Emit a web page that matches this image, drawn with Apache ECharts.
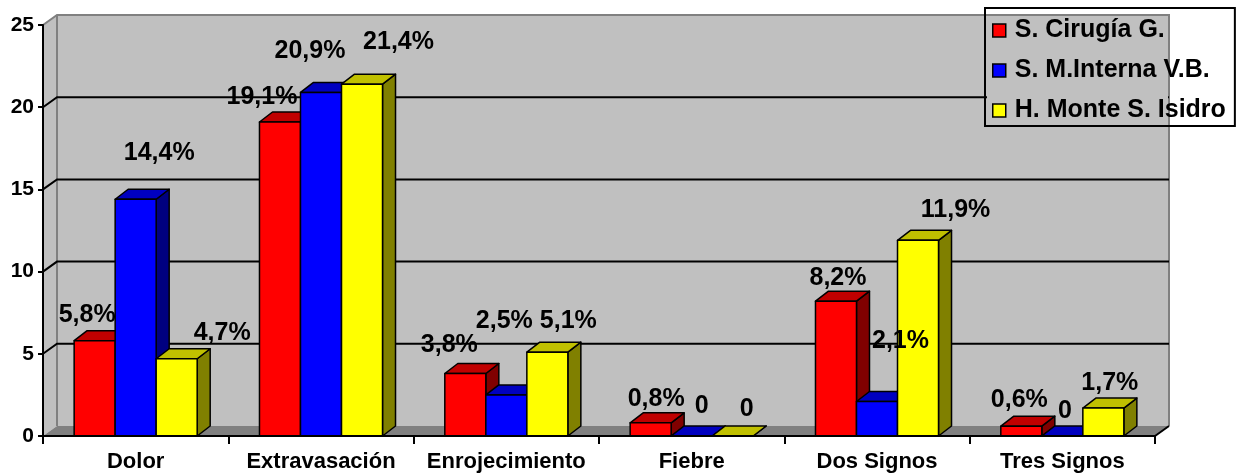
<!DOCTYPE html>
<html>
<head>
<meta charset="utf-8">
<script src="https://cdn.jsdelivr.net/npm/echarts@6/dist/echarts.min.js"></script>
<style>
  html, body { margin: 0; padding: 0; background: #ffffff; }
  #chart { width: 1242px; height: 475px; }
</style>
</head>
<body>
<div id="chart"></div>
<script>
// Categories and values (percent of patients per sign)
const categories = ['Dolor', 'Extravasación', 'Enrojecimiento', 'Fiebre', 'Dos Signos', 'Tres Signos'];
const seriesNames = ['S. Cirugía G.', 'S. M.Interna V.B.', 'H. Monte S. Isidro'];
const cirugiaValues = [5.8, 19.1, 3.8, 0.8, 8.2, 0.6];
const internaValues = [14.4, 20.9, 2.5, 0, 2.1, 0];
const isidroValues = [4.7, 21.4, 5.1, 0, 11.9, 1.7];
const yTicks = [0, 5, 10, 15, 20, 25];

// Label placement relative to the top-front centre of each column [dx, dy] in px
const cirugiaLabelNudge = [[-7.5, -26], [-18, -25], [-16, -28], [5.5, -24], [2, -23], [-2, -26]];
const internaLabelNudge = [[23.5, -46], [-11, -41], [-2, -74], [10, -30], [23.5, -60], [2.5, -25]];
const isidroLabelNudge = [[45.5, -26], [36.5, -42], [21, -31], [14, -27], [37.5, -30], [6.5, -25]];

const FONT = '"Liberation Sans", Arial, sans-serif';

// Face colours: front, top, side
const palette = [
  { front: '#FF0000', top: '#C00000', side: '#800000' },
  { front: '#0000FF', top: '#0000C0', side: '#000080' },
  { front: '#FFFF00', top: '#C0C000', side: '#808000' }
];

// Depth of the walls and of the columns (projected offsets)
const WALL_DX = 14, WALL_DY = -10;
const BAR_DX = 13, BAR_DY = -10;
const BAR_FRACTION = 0.2213;

function fmt(v) {
  return v === 0 ? '0' : v.toFixed(1).replace('.', ',') + '%';
}

function wallsRender(params, api) {
  const cs = params.coordSys;
  const x0 = cs.x, x1 = cs.x + cs.width;
  const yTop = cs.y, yBot = cs.y + cs.height;
  const children = [];
  // left side wall
  children.push({ type: 'polygon', shape: { points: [[x0, yTop], [x0 + WALL_DX, yTop + WALL_DY], [x0 + WALL_DX, yBot + WALL_DY], [x0, yBot]] },
    style: { fill: '#C0C0C0', stroke: null } });
  // back wall
  children.push({ type: 'rect', shape: { x: x0 + WALL_DX, y: yTop + WALL_DY, width: x1 - x0, height: yBot - yTop },
    style: { fill: '#C0C0C0', stroke: null } });
  // floor
  children.push({ type: 'polygon', shape: { points: [[x0, yBot], [x1, yBot], [x1 + WALL_DX, yBot + WALL_DY], [x0 + WALL_DX, yBot + WALL_DY]] },
    style: { fill: '#808080', stroke: null } });
  // wall edges
  children.push({ type: 'polyline', shape: { points: [[x0, yTop], [x0 + WALL_DX, yTop + WALL_DY], [x1 + WALL_DX, yTop + WALL_DY], [x1 + WALL_DX, yBot + WALL_DY]] },
    style: { fill: null, stroke: '#808080', lineWidth: 2 } });
  children.push({ type: 'line', shape: { x1: x0 + WALL_DX, y1: yTop + WALL_DY, x2: x0 + WALL_DX, y2: yBot + WALL_DY },
    style: { stroke: '#808080', lineWidth: 2 } });
  // gridlines on the side and back walls
  yTicks.forEach(function (t) {
    if (t === 0 || t === 25) return;
    const y = api.coord([0, t])[1];
    children.push({ type: 'polyline', shape: { points: [[x0, y], [x0 + WALL_DX, y + WALL_DY], [x1 + WALL_DX, y + WALL_DY]] },
      style: { fill: null, stroke: '#000000', lineWidth: 2 } });
  });
  // floor right edge
  children.push({ type: 'line', shape: { x1: x1, y1: yBot, x2: x1 + WALL_DX, y2: yBot + WALL_DY },
    style: { stroke: '#000000', lineWidth: 2 } });
  return { type: 'group', children: children };
}

function makeBarRender(seriesIdx, nudges) {
  const col = palette[seriesIdx];
  return function (params, api) {
    const cat = api.value(0);
    const v = api.value(1);
    const base = api.coord([cat, 0]);
    const top = api.coord([cat, v]);
    const w = api.size([1, 0])[0] * BAR_FRACTION;
    const cx = base[0] + (seriesIdx - 1) * w;
    const l = cx - w / 2, r = cx + w / 2;
    const ty = top[1], by = base[1];
    const stroke = { stroke: '#000000', lineWidth: 1.5, lineJoin: 'round' };
    const n = nudges[params.dataIndex];
    return {
      type: 'group',
      children: [
        { type: 'polygon', shape: { points: [[r, ty], [r + BAR_DX, ty + BAR_DY], [r + BAR_DX, by + BAR_DY], [r, by]] },
          style: Object.assign({ fill: col.side }, stroke) },
        { type: 'polygon', shape: { points: [[l, ty], [r, ty], [r + BAR_DX, ty + BAR_DY], [l + BAR_DX, ty + BAR_DY]] },
          style: Object.assign({ fill: col.top }, stroke) },
        { type: 'rect', shape: { x: l, y: ty, width: w, height: by - ty },
          style: Object.assign({ fill: col.front }, stroke) },
        { type: 'text', z2: 100,
          style: { x: cx + n[0], y: ty + n[1], text: fmt(v), fill: '#000000',
            font: 'bold 25px ' + FONT, textAlign: 'center', textVerticalAlign: 'middle' } }
      ]
    };
  };
}

function toData(values) {
  return values.map(function (v, i) { return [i, v]; });
}

const valueSets = [cirugiaValues, internaValues, isidroValues];
const nudgeSets = [cirugiaLabelNudge, internaLabelNudge, isidroLabelNudge];

const barSeries = valueSets.map(function (vals, s) {
  return {
    name: seriesNames[s],
    type: 'custom',
    z: 2,
    clip: false,
    silent: true,
    encode: { x: 0, y: 1 },
    itemStyle: { color: palette[s].front, borderColor: '#000000', borderWidth: 1.5 },
    renderItem: makeBarRender(s, nudgeSets[s]),
    data: toData(vals)
  };
});

const chart = echarts.init(document.getElementById('chart'), null, { renderer: 'canvas' });
chart.setOption({
  animation: false,
  backgroundColor: '#ffffff',
  grid: { left: 43, right: 87, top: 25, bottom: 39, containLabel: false },
  xAxis: {
    type: 'category',
    data: categories,
    z: 3,
    boundaryGap: true,
    axisLine: { show: true, lineStyle: { color: '#000000', width: 2 } },
    axisTick: { show: true, interval: 0, length: 8, lineStyle: { color: '#000000', width: 2 } },
    axisLabel: { interval: 0, margin: 15, color: '#000000', fontFamily: FONT, fontWeight: 'bold', fontSize: 22 },
    splitLine: { show: false }
  },
  yAxis: {
    type: 'value',
    min: 0, max: 25, interval: 5,
    z: 3,
    axisLine: { show: true, lineStyle: { color: '#000000', width: 2 } },
    axisTick: { show: true, length: 5, lineStyle: { color: '#000000', width: 2 } },
    axisLabel: { margin: 9, color: '#000000', fontFamily: FONT, fontWeight: 'bold', fontSize: 21 },
    splitLine: { show: false }
  },
  legend: {
    orient: 'vertical',
    left: 985, top: 8,
    z: 10,
    data: seriesNames,
    icon: 'rect',
    itemWidth: 13, itemHeight: 13,
    itemGap: 13,
    padding: [9, 9, 2, 7],
    borderColor: '#000000', borderWidth: 2,
    backgroundColor: 'transparent',
    selectedMode: false,
    itemStyle: { borderColor: '#000000', borderWidth: 1.5 },
    textStyle: { color: '#000000', fontFamily: FONT, fontWeight: 'bold', fontSize: 25, lineHeight: 27, padding: [0, 0, 0, 4] }
  },
  graphic: [
    // wall fill behind the legend box, without gridlines
    { type: 'rect', z: 5, silent: true, shape: { x: 987, y: 16, width: 1155 + WALL_DX - 987 - 1, height: 108 },
      style: { fill: '#C0C0C0' } }
  ],
  series: [
    { type: 'custom', name: 'walls', z: 1, silent: true, clip: false, encode: { x: 0, y: 1 },
      renderItem: wallsRender, data: [[0, 0]] }
  ].concat(barSeries)
});
</script>
</body>
</html>
